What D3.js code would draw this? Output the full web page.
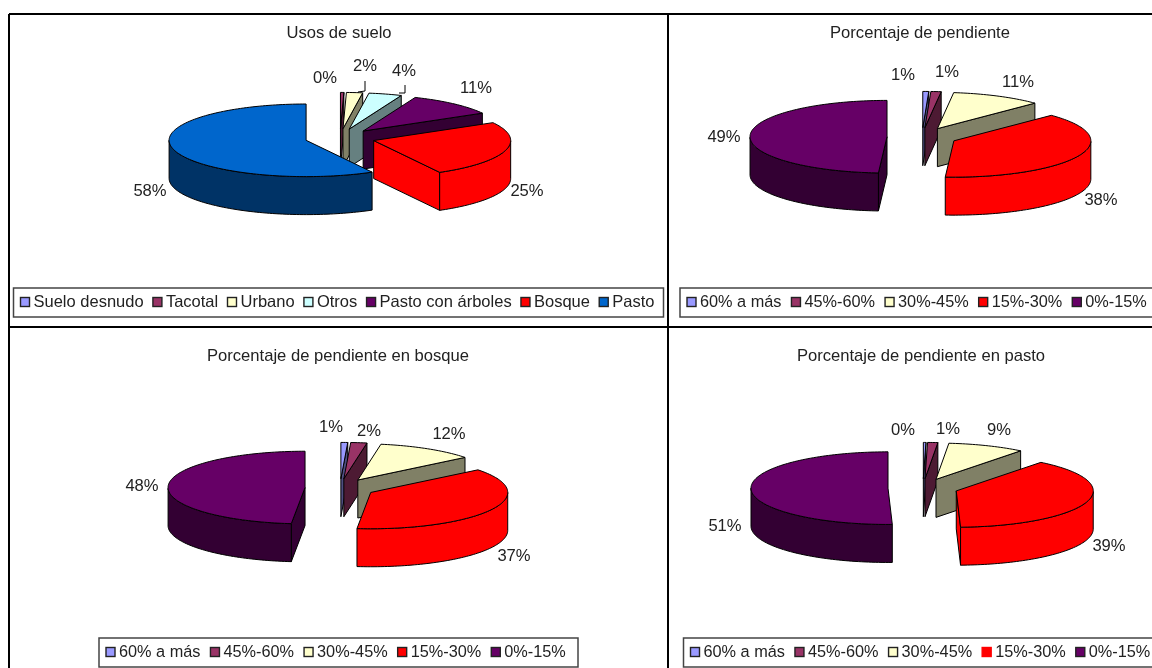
<!DOCTYPE html>
<html>
<head>
<meta charset="utf-8">
<script src="https://cdn.jsdelivr.net/npm/d3@7"></script>
<style>
html, body { margin: 0; padding: 0; background: #fff; overflow: hidden; }
svg { display: block; filter: blur(0.35px); }
text { font-family: "Liberation Sans", Arial, sans-serif; font-size: 16.6px; fill: #222; }
</style>
</head>
<body>
<svg width="1152" height="668"></svg>
<script>
// categories
var usosCats = ["Suelo desnudo", "Tacotal", "Urbano", "Otros", "Pasto con árboles", "Bosque", "Pasto"];
var pendienteCats = ["60% a más", "45%-60%", "30%-45%", "15%-30%", "0%-15%"];

// values, in percent
var usosVals = [0, 0.4, 1.9, 3.9, 10.6, 25.2, 58];
var pendienteVals = [0.7, 1.2, 10.7, 38.4, 49];
var bosqueVals = [0.8, 1.9, 11.6, 37.3, 48.4];
var pastoVals = [0.3, 1.2, 9.1, 38.9, 50.5];

// colours by category name
var usosColors = ["#9999ff", "#993366", "#ffffcc", "#ccffff", "#660066", "#ff0000", "#0066cc"];
var usosSides = ["#4d4d80", "#4d1a33", "#808066", "#668080", "#330033", "#ff0000", "#003366"];
var pendColors = ["#9999ff", "#993366", "#ffffcc", "#ff0000", "#660066"];
var pendSides = ["#4d4d80", "#4d1a33", "#808066", "#ff0000", "#330033"];

var charts = [
  { title: "Usos de suelo", titleX: 339, titleY: 33, cats: usosCats, vals: usosVals, colors: usosColors, sides: usosSides,
    cx: 340, cy: 138, box: [13.5, 288, 650, 29], legendFont: 16.5, legendStep: 22.3,
    labels: [null, [325, 78], [365, 66], [404, 71], [476, 88], [527, 191], [150, 191]],
    leaders: [[[365, 81], [365, 91], [358, 92]], [[405, 85], [405, 93], [399, 93]]] },
  { title: "Porcentaje de pendiente", titleX: 920, titleY: 33, cats: pendienteCats, vals: pendienteVals, colors: pendColors, sides: pendSides,
    cx: 922, cy: 137, box: [680, 288, 490, 29], legendFont: 16.3, legendStep: 23,
    labels: [[903, 75], [947, 72], [1018, 82], [1101, 200], [724, 137]] },
  { title: "Porcentaje de pendiente en bosque", titleX: 338, titleY: 356, cats: pendienteCats, vals: bosqueVals, colors: pendColors, sides: pendSides,
    cx: 340, cy: 488, box: [99, 638, 479, 29], legendFont: 16.3, legendStep: 23,
    labels: [[331, 427], [369, 431], [449, 434], [514, 556], [142, 486]] },
  { title: "Porcentaje de pendiente en pasto", titleX: 921, titleY: 356, cats: pendienteCats, vals: pastoVals, colors: pendColors, sides: pendSides,
    cx: 923, cy: 488, box: [683.5, 638, 490, 29], legendFont: 16.3, legendStep: 23, plainSwatch: 3,
    labels: [[903, 430], [948, 429], [999, 430], [1109, 546], [725, 526]] }
];

var R = 137, tilt = 0.265, depth = 38, explode = 35;

var svg = d3.select("svg");
var pie = d3.pie().sort(null).value(function (d) { return d; });

// frame of the four panels
var frame = [[9, 14, 1152, 14], [8, 327, 1152, 327], [9, 14, 9, 668], [668, 14, 668, 668]];
svg.selectAll("line.frame").data(frame).enter().append("line")
  .attr("class", "frame")
  .attr("x1", function (d) { return d[0]; })
  .attr("y1", function (d) { return d[1]; })
  .attr("x2", function (d) { return d[2]; })
  .attr("y2", function (d) { return d[3]; })
  .attr("stroke", "#000")
  .attr("stroke-width", 2);

var line = d3.line();

charts.forEach(function (c) {
  var g = svg.append("g");

  g.append("text").attr("x", c.titleX).attr("y", c.titleY + 1)
    .attr("text-anchor", "middle").attr("dominant-baseline", "middle")
    .text(c.title);

  var arcs = pie(c.vals).map(function (a) {
    a.mid = (a.startAngle + a.endAngle) / 2;
    a.ox = c.cx + explode * Math.sin(a.mid);
    a.oy = c.cy - explode * tilt * Math.cos(a.mid);
    return a;
  }).filter(function (a) { return a.value > 0; });

  // back to front
  arcs.slice().sort(function (a, b) {
    return d3.ascending(-Math.cos(a.mid), -Math.cos(b.mid));
  }).forEach(function (a) {
    var i = a.index;
    function rim(t, dz) {
      return [a.ox + R * Math.sin(t), a.oy - R * tilt * Math.cos(t) + (dz || 0)];
    }
    var n = Math.max(2, Math.ceil((a.endAngle - a.startAngle) * 40));
    var ts = d3.range(n + 1).map(function (k) {
      return a.startAngle + (a.endAngle - a.startAngle) * k / n;
    });
    var apex = [a.ox, a.oy], apexLow = [a.ox, a.oy + depth];
    var piece = g.append("g").attr("stroke", "#000").attr("stroke-width", 1).attr("stroke-linejoin", "round");

    // cut faces that look to the viewer
    if (Math.sin(a.startAngle) < -1e-6) {
      piece.append("path").attr("fill", c.sides[i])
        .attr("d", line([apex, rim(a.startAngle), rim(a.startAngle, depth), apexLow]) + "Z");
    }
    if (Math.sin(a.endAngle) > 1e-6) {
      piece.append("path").attr("fill", c.sides[i])
        .attr("d", line([apex, rim(a.endAngle), rim(a.endAngle, depth), apexLow]) + "Z");
    }
    // outer wall, only the front half
    var front = ts.filter(function (t) { return Math.cos(t) <= 0; });
    if (front.length > 1) {
      var upper = front.map(function (t) { return rim(t); });
      var lower = front.map(function (t) { return rim(t, depth); }).reverse();
      piece.append("path").attr("fill", c.sides[i]).attr("d", line(upper.concat(lower)) + "Z");
    }
    // top
    piece.append("path").attr("fill", c.colors[i])
      .attr("d", line([apex].concat(ts.map(function (t) { return rim(t); }))) + "Z");
  });

  // leader lines
  (c.leaders || []).forEach(function (pts) {
    g.append("path").attr("fill", "none").attr("stroke", "#000").attr("d", line(pts));
  });

  // percent labels
  arcs.forEach(function (a) {
    var p = c.labels[a.index];
    g.append("text").attr("x", p[0]).attr("y", p[1] + 1)
      .attr("text-anchor", "middle").attr("dominant-baseline", "middle")
      .text(Math.round(a.value) + "%");
  });

  // legend
  var b = c.box;
  g.append("rect").attr("x", b[0]).attr("y", b[1]).attr("width", b[2]).attr("height", b[3])
    .attr("fill", "#fff").attr("stroke", "#444").attr("stroke-width", 1.5);
  var x = b[0] + 7;
  c.cats.forEach(function (name, i) {
    g.append("rect").attr("x", x).attr("y", b[1] + b[3] / 2 - 5).attr("width", 9).attr("height", 9)
      .attr("fill", c.colors[i]).attr("stroke", c.plainSwatch === i ? c.colors[i] : "#222").attr("stroke-width", 1.4);
    var t = g.append("text").attr("x", x + 13).attr("y", b[1] + b[3] / 2)
      .attr("dominant-baseline", "middle").style("font-size", c.legendFont + "px").text(name);
    x += c.legendStep + t.node().getComputedTextLength();
  });
});
</script>
</body>
</html>
